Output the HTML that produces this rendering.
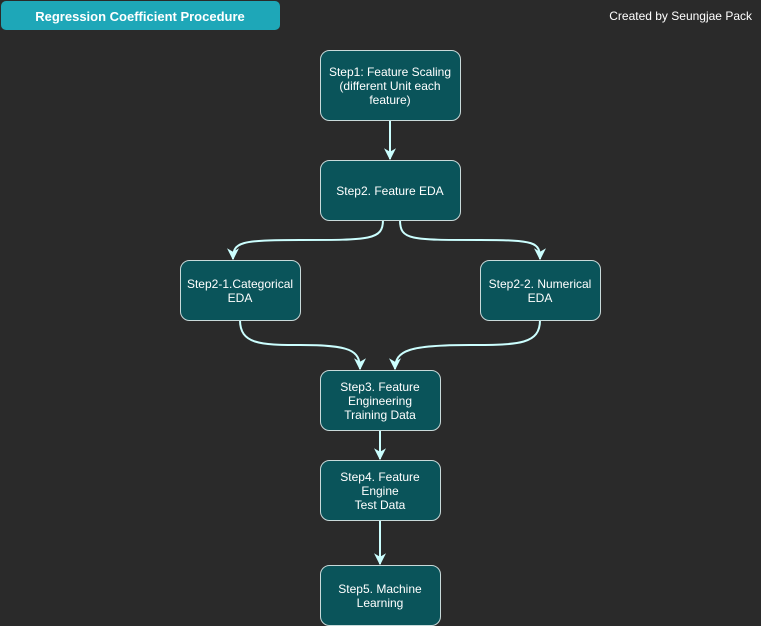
<!DOCTYPE html>
<html><head><style>
body{margin:0;background:#2a2a2a;width:761px;height:626px;overflow:hidden;font-family:"Liberation Sans",Arial,sans-serif}
</style></head><body>
<svg width="761" height="626" xmlns="http://www.w3.org/2000/svg" style="position:absolute;left:0;top:0">
<defs>
<marker id="a" viewBox="0 0 10 10" refX="9" refY="5" markerWidth="12" markerHeight="12" markerUnits="userSpaceOnUse" orient="auto">
<path d="M0,0 L10,5 L0,10 L3,5 Z" fill="#ccffff"/>
</marker>
</defs>
<rect x="1" y="1" width="279" height="29" rx="5" fill="#1ea7b8"/>
<text x="140" y="21" fill="#fff" font-size="13" font-weight="bold" text-anchor="middle">Regression Coefficient Procedure</text>
<text x="752" y="20" fill="#fff" font-size="12" text-anchor="end">Created by Seungjae Pack</text>
<g fill="none" stroke="#ccffff" stroke-width="2" marker-end="url(#a)">
<path d="M390,120 L390,159"/>
<path d="M383,220 C383,240 370,240 300,240 C240,240 233,242 233,259"/>
<path d="M400,220 C400,240 410,240 480,240 C535,240 540,242 540,259"/>
<path d="M240,320 C240,344 260,345 300,345 C350,345 360,350 360,369"/>
<path d="M540,320 C540,344 520,345 470,345 C410,345 395,350 395,369"/>
<path d="M380,430 L380,459"/>
<path d="M380,520 L380,564"/>
</g>
<g fill="#0a545a" stroke="#c8dada" stroke-width="1">
<rect x="320.5" y="50.5" width="140" height="70" rx="9"/>
<rect x="320.5" y="160.5" width="140" height="60" rx="9"/>
<rect x="180.5" y="260.5" width="120" height="60" rx="9"/>
<rect x="480.5" y="260.5" width="120" height="60" rx="9"/>
<rect x="320.5" y="370.5" width="120" height="60" rx="9"/>
<rect x="320.5" y="460.5" width="120" height="60" rx="9"/>
<rect x="320.5" y="565.5" width="120" height="60" rx="9"/>
</g>
<g fill="#fff" font-size="12" text-anchor="middle">
<text x="390" y="76">Step1: Feature Scaling</text>
<text x="390" y="90">(different Unit each</text>
<text x="390" y="104">feature)</text>
<text x="390" y="195">Step2.  Feature EDA</text>
<text x="240" y="288">Step2-1.Categorical</text>
<text x="240" y="302">EDA</text>
<text x="540" y="288">Step2-2. Numerical</text>
<text x="540" y="302">EDA</text>
<text x="380" y="391">Step3. Feature</text>
<text x="380" y="405">Engineering</text>
<text x="380" y="419">Training Data</text>
<text x="380" y="481">Step4. Feature</text>
<text x="380" y="495">Engine</text>
<text x="380" y="509">Test Data</text>
<text x="380" y="593">Step5. Machine</text>
<text x="380" y="607">Learning</text>
</g>
</svg>
</body></html>
